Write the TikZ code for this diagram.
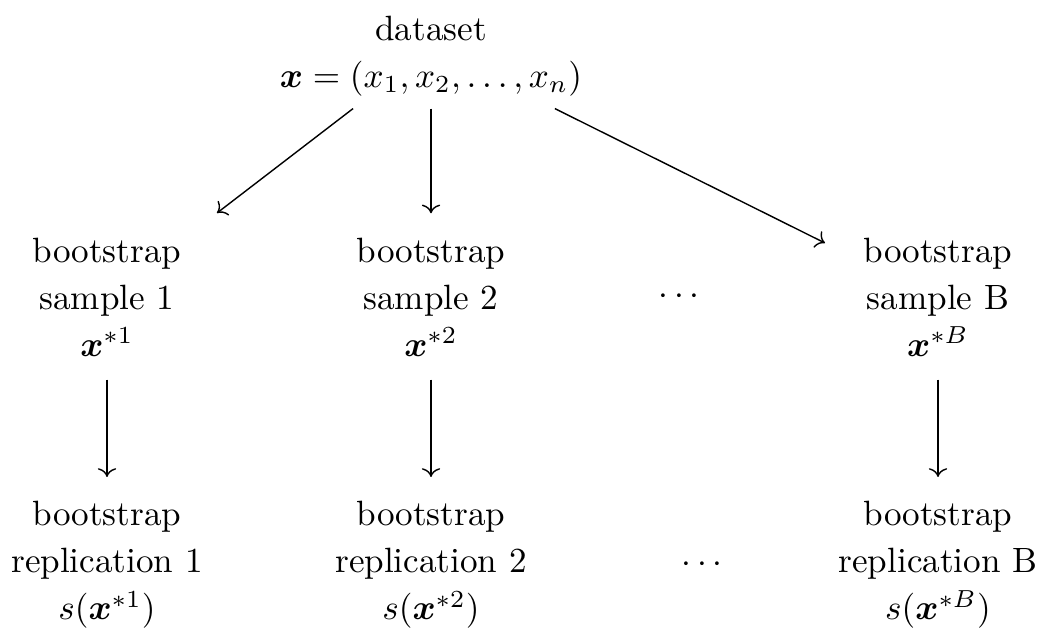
\documentclass[tikz,border=0pt]{standalone}
\usepackage{amsmath, amssymb, bm}
\usepackage{tikz}
\usetikzlibrary{arrows.meta, positioning}

\begin{document}
\begin{tikzpicture}[box/.style={align=center, font=\fontsize{10}{13.4}\selectfont}, arr/.style={->, shorten >=1.2mm}, down/.style={arr, shorten <=1.1mm}]
    \useasboundingbox (0,0) rectangle (10.39,-6.28);
    % dataset and samples
    \node[box] (data) at (4.31,-0.56) {dataset\\ $\bm{x}=(x_1,x_2,\dots,x_n)$};
    \node[box] (s1) at (1.07,-2.97) {bootstrap\\ sample 1\\ $\bm{x}^{*1}$};
    \node[box] (s2) at (4.31,-2.97) {bootstrap\\ sample 2\\ $\bm{x}^{*2}$};
    \node[box] (dots1) at (6.82,-2.97) {$\cdots$};
    \node[box] (sB) at (9.38,-2.97) {bootstrap\\ sample B\\ $\bm{x}^{*B}$};
    % replications
    \node[box] (r1) at (1.07,-5.65) {bootstrap\\ replication 1\\ $s(\bm{x}^{*1})$};
    \node[box] (r2) at (4.31,-5.65) {bootstrap\\ replication 2\\ $s(\bm{x}^{*2})$};
    \node[box] (dots2) at (7.05,-5.65) {$\cdots$};
    \node[box] (rB) at (9.38,-5.65) {bootstrap\\ replication B\\ $s(\bm{x}^{*B})$};

    \coordinate (t1) at (2.17,-2.13);
    \coordinate (tB) at (8.25,-2.43);
    \draw[->] (data.214) -- (t1);
    \draw[arr] (data) -- (s2);
    \draw[->] (data.337) -- (tB);
    \draw[down] (s1) -- (r1);
    \draw[down] (s2) -- (r2);
    \draw[down] (sB) -- (rB);
\end{tikzpicture}
\end{document}
